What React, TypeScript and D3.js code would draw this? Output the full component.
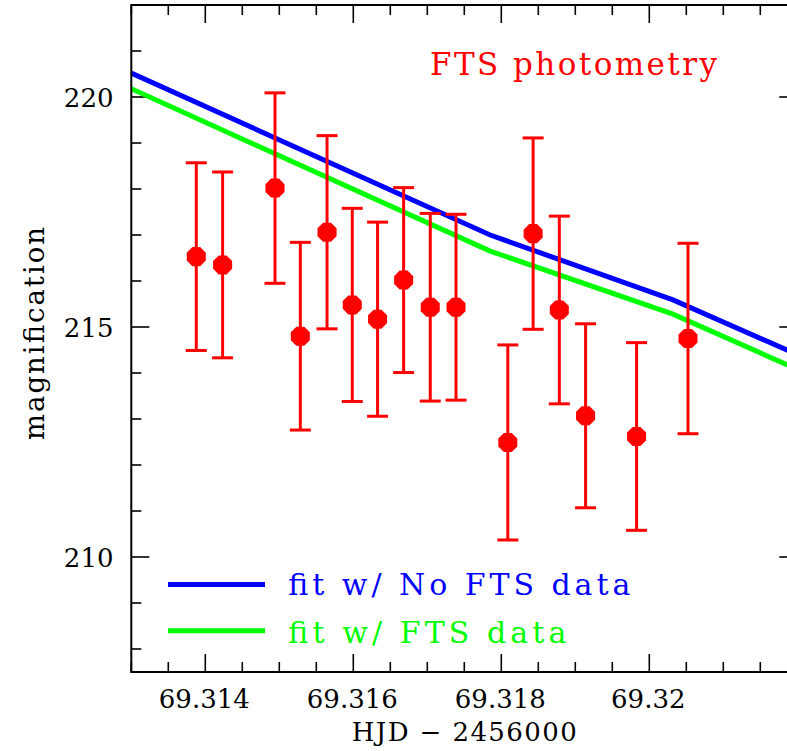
import React from 'react';
import * as d3 from 'd3';

const W = 787;
const H = 751;

// FTS photometry points
const hjd = [69.313878, 69.314234, 69.314942, 69.315284, 69.315645, 69.315986, 69.316328, 69.31668,
  69.31704, 69.317388, 69.318088, 69.31843, 69.318784, 69.319139, 69.319828, 69.320523];
const mag = [216.53, 216.35, 218.02, 214.80, 217.06, 215.48, 215.17, 216.02,
  215.43, 215.43, 212.49, 217.03, 215.37, 213.07, 212.62, 214.75];
const magErr = [2.04, 2.02, 2.07, 2.04, 2.1, 2.1, 2.11, 2.01,
  2.04, 2.02, 2.12, 2.08, 2.04, 2.0, 2.04, 2.07];

// model fits
const fitX = [69.313, 69.31785, 69.32032, 69.322];
const fitNoFtsY = [220.52, 217.0, 215.59, 214.40];
const fitFtsY = [220.18, 216.65, 215.28, 214.08];

const xMajorTicks = [69.314, 69.316, 69.318, 69.32];
const xTickLabels = ['69.314', '69.316', '69.318', '69.32'];
const yMajorTicks = [210, 215, 220];
const yTickLabels = ['210', '215', '220'];

const legendLabels = ['fit w/ No FTS data', 'fit w/ FTS data'];
const legendColors = ['#0000ff', '#00ff00'];

const FONT = '"DejaVu Serif", serif';

export default function App() {
  const left = 131.3, right = 797.3, top = 5, bottom = 672;
  const x = d3.scaleLinear().domain([69.313, 69.322]).range([left, right]);
  const y = d3.scaleLinear().domain([207.5, 222]).range([bottom, top]);

  const xMinor = d3.range(0, 19).map((i) => 69.313 + i * 0.0005);
  const yMinor = d3.range(208, 223, 1);

  const line = d3.line<[number, number]>().x((d) => x(d[0])).y((d) => y(d[1]));
  const blue = line(fitX.map((v, i) => [v, fitNoFtsY[i]] as [number, number]));
  const green = line(fitX.map((v, i) => [v, fitFtsY[i]] as [number, number]));

  const octR = 10.3;
  const oct = d3.range(8).map((k) => {
    const a = Math.PI / 8 + (k * Math.PI) / 4;
    return [octR * Math.cos(a), octR * Math.sin(a)] as [number, number];
  });
  const octPath = d3.line()(oct) + 'Z';

  const isMajorX = (v: number) => xMajorTicks.some((m) => Math.abs(m - v) < 1e-7);
  const isMajorY = (v: number) => yMajorTicks.includes(v);

  return (
    <svg width={W} height={H} style={{ position: 'absolute', left: 0, top: 0, background: '#fff' }}>
      <defs>
        <clipPath id="plot">
          <rect x={left} y={top} width={right - left} height={bottom - top} />
        </clipPath>
      </defs>
      <rect x={0} y={0} width={W} height={H} fill="#fff" />
      {/* ticks */}
      <g stroke="#000" strokeWidth={1.6}>
        {xMinor.map((v, i) => {
          const len = isMajorX(v) ? 18 : 10;
          return (
            <g key={'xt' + i}>
              <line x1={x(v)} x2={x(v)} y1={bottom} y2={bottom - len} />
              <line x1={x(v)} x2={x(v)} y1={top} y2={top + len} />
            </g>
          );
        })}
        {yMinor.map((v, i) => {
          const len = isMajorY(v) ? 18 : 10;
          return (
            <g key={'yt' + i}>
              <line x1={left} x2={left + len} y1={y(v)} y2={y(v)} />
              <line x1={right} x2={right - len} y1={y(v)} y2={y(v)} />
            </g>
          );
        })}
      </g>
      {/* fits */}
      <g clipPath="url(#plot)" fill="none" strokeWidth={5}>
        <path d={blue || ''} stroke="#0000ff" />
        <path d={green || ''} stroke="#00ff00" />
      </g>
      {/* error bars and points */}
      <g stroke="#ff0000" strokeWidth={3} fill="none">
        {hjd.map((h, i) => {
          const cx = x(h);
          const y1 = y(mag[i] + magErr[i]);
          const y2 = y(mag[i] - magErr[i]);
          return (
            <g key={'e' + i}>
              <line x1={cx} x2={cx} y1={y1} y2={y2} />
              <line x1={cx - 10.5} x2={cx + 10.5} y1={y1} y2={y1} />
              <line x1={cx - 10.5} x2={cx + 10.5} y1={y2} y2={y2} />
            </g>
          );
        })}
      </g>
      <g fill="#ff0000">
        {hjd.map((h, i) => (
          <path key={'p' + i} d={octPath} transform={`translate(${x(h)},${y(mag[i])})`} />
        ))}
      </g>
      {/* frame */}
      <rect x={left} y={top} width={right - left} height={bottom - top} fill="none" stroke="#000" strokeWidth={2} />
      {/* tick labels */}
      <g fontFamily={FONT} fontSize={26} fill="#000">
        {xMajorTicks.map((v, i) => (
          <text key={'xl' + i} x={x(v) - 1} y={708} textAnchor="middle">{xTickLabels[i]}</text>
        ))}
        {yMajorTicks.map((v, i) => (
          <text key={'yl' + i} x={113.5} y={y(v) + 9.5} textAnchor="end">{yTickLabels[i]}</text>
        ))}
        <text x={351.7} y={741} textLength={225} lengthAdjust="spacing">HJD − 2456000</text>
        <text transform="translate(44,440) rotate(-90)" textLength={213} lengthAdjust="spacing" fontSize={27.5}>magnification</text>
      </g>
      {/* annotation */}
      <text x={430} y={75} fontFamily={FONT} fontSize={31} fill="#ff0000" textLength={287} lengthAdjust="spacing">FTS photometry</text>
      {/* legend */}
      {legendLabels.map((lab, i) => {
        const ly = 584.5 + i * 46.2;
        return (
          <g key={'lg' + i}>
            <line x1={168} x2={265} y1={ly} y2={ly} stroke={legendColors[i]} strokeWidth={5} />
            <text x={288.3} y={595 + i * 48.3} fontFamily={FONT} fontSize={30} fill={legendColors[i]}
              textLength={i === 0 ? 342 : 278} lengthAdjust="spacing">{lab}</text>
          </g>
        );
      })}
    </svg>
  );
}
